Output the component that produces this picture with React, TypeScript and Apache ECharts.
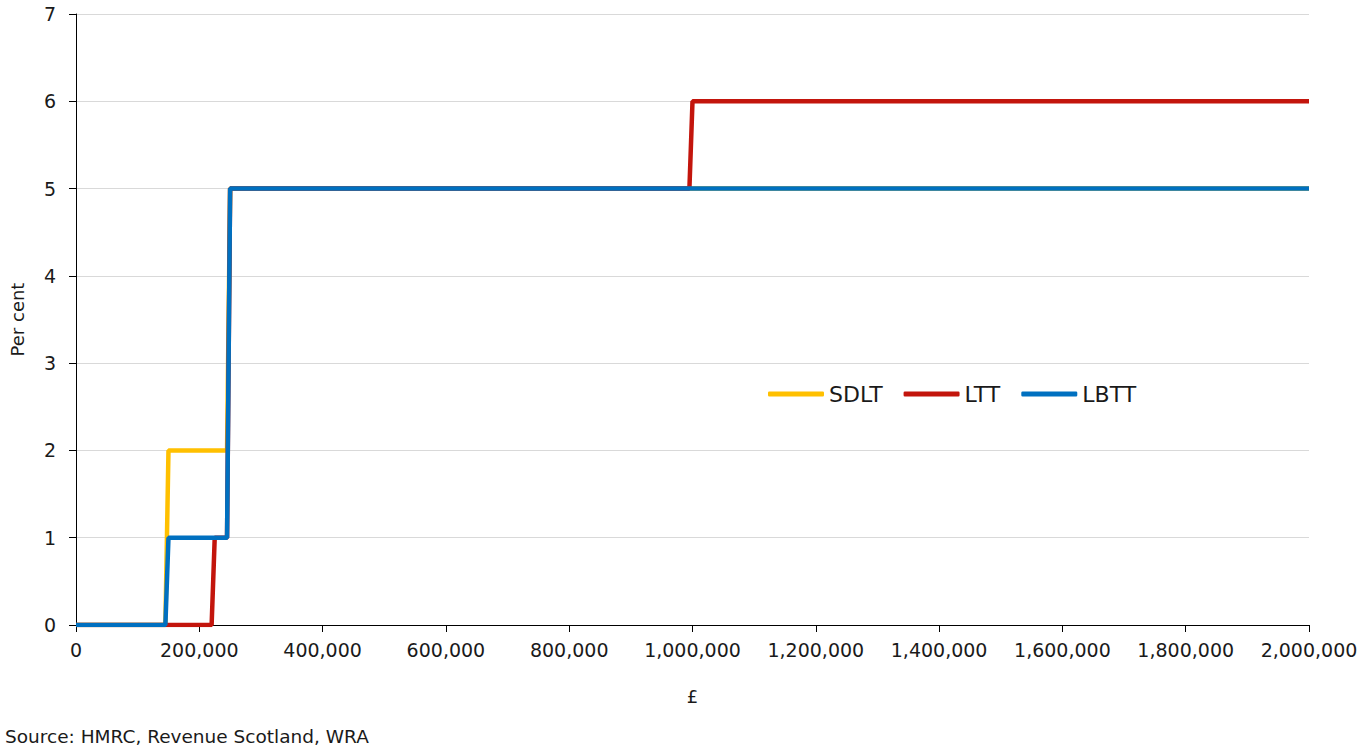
import React, { useEffect, useRef } from "react";
import * as echarts from "echarts";

const seriesNames = ["SDLT", "LTT", "LBTT"];
const seriesColors = ["#FFC000", "#C3150C", "#0070C0"];

// [price (£), rate (per cent)]
const sdltPoints: [number, number][] = [
  [0, 0], [145000, 0], [150000, 2], [245000, 2], [250000, 5], [2000000, 5],
];
const lttPoints: [number, number][] = [
  [0, 0], [220000, 0], [225000, 1], [245000, 1], [250000, 5], [995000, 5], [1000000, 6], [2000000, 6],
];
const lbttPoints: [number, number][] = [
  [0, 0], [145000, 0], [150000, 1], [245000, 1], [250000, 5], [2000000, 5],
];

const xMin = 0;
const xMax = 2000000;
const xInterval = 200000;
const yMin = 0;
const yMax = 7;
const yInterval = 1;

const sourceText = "Source: HMRC, Revenue Scotland, WRA";
const FONT = "DejaVu Sans";
const TEXT = "#1a1a1a";

export default function App() {
  const ref = useRef<HTMLDivElement>(null);
  useEffect(() => {
    document.body.style.margin = "0";
    if (!ref.current) return;
    const chart = echarts.init(ref.current, undefined, { renderer: "svg" });
    const allData = [sdltPoints, lttPoints, lbttPoints];
    chart.setOption({
      animation: false,
      backgroundColor: "#ffffff",
      textStyle: { fontFamily: FONT, color: TEXT },
      grid: { left: 74, right: 52, top: 14, bottom: 125, containLabel: false },
      legend: {
        left: 763,
        top: 378,
        icon: "roundRect",
        itemWidth: 56,
        itemHeight: 5,
        itemGap: 21,
        textStyle: { fontFamily: FONT, fontSize: 22, color: TEXT },
        data: seriesNames,
      },
      xAxis: {
        type: "value",
        min: xMin,
        max: xMax,
        interval: xInterval,
        name: "£",
        nameLocation: "middle",
        nameGap: 62,
        nameTextStyle: { fontFamily: FONT, fontSize: 18, color: TEXT },
        axisLine: { show: true, lineStyle: { color: "#000", width: 1 } },
        axisTick: { show: true, length: 7, lineStyle: { color: "#000" } },
        splitLine: { show: false },
        axisLabel: {
          fontFamily: FONT,
          fontSize: 19,
          color: TEXT,
          margin: 15,
          formatter: (v: number) => v.toLocaleString("en-GB"),
        },
      },
      yAxis: {
        type: "value",
        min: yMin,
        max: yMax,
        interval: yInterval,
        name: "Per cent",
        nameLocation: "middle",
        nameGap: 50,
        nameRotate: 90,
        nameTextStyle: { fontFamily: FONT, fontSize: 18, color: TEXT },
        axisLine: { show: true, lineStyle: { color: "#000", width: 1 } },
        axisTick: { show: true, length: 7, lineStyle: { color: "#000" } },
        splitLine: { show: true, lineStyle: { color: "#d9d9d9", width: 1 } },
        axisLabel: { fontFamily: FONT, fontSize: 19, color: TEXT, margin: 20 },
      },
      series: seriesNames.map((name, i) => ({
        name,
        type: "line",
        data: allData[i],
        symbol: "none",
        showSymbol: false,
        color: seriesColors[i],
        itemStyle: { color: seriesColors[i] },
        lineStyle: { color: seriesColors[i], width: 4.5 },
        z: 2 + i,
      })),
      graphic: [
        {
          type: "text",
          left: 5,
          top: 727,
          style: { text: sourceText, fontFamily: FONT, fontSize: 18.5, fill: TEXT },
        },
      ],
    });
    return () => chart.dispose();
  }, []);
  return <div ref={ref} style={{ width: 1361, height: 750 }} />;
}
